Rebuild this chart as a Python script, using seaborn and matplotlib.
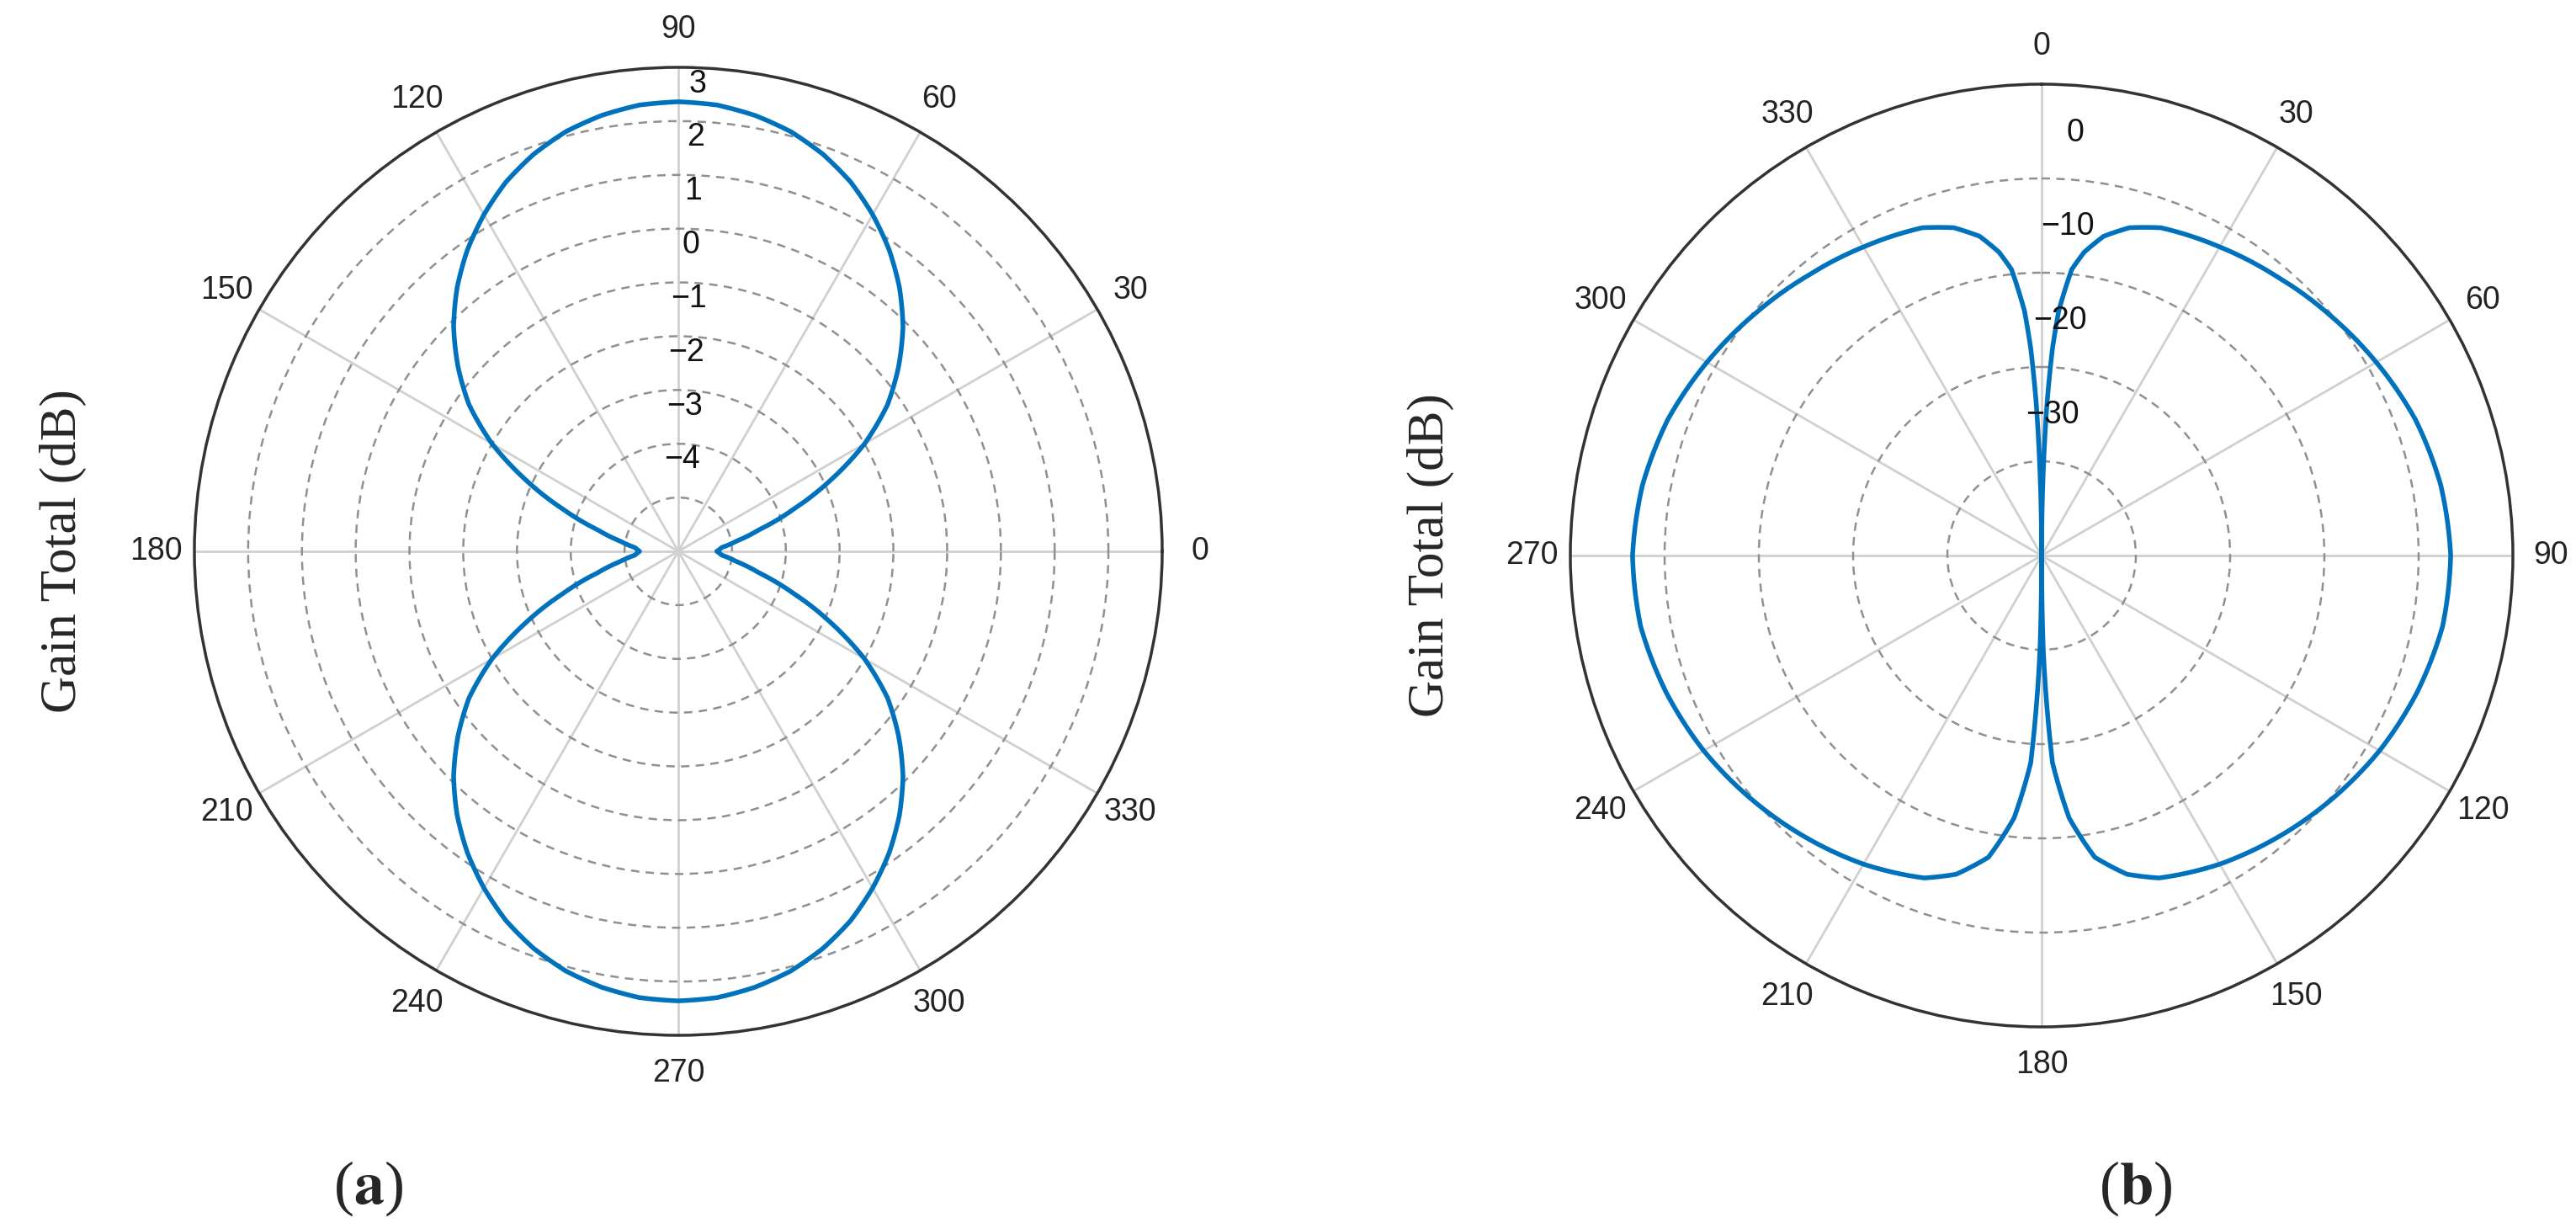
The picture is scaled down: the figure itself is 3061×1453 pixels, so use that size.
import numpy as np
import matplotlib
matplotlib.use("Agg")
import matplotlib.pyplot as plt
import seaborn as sns
import pandas as pd

sns.set_style("white")
plt.rcParams['font.family'] = ['Liberation Sans', 'DejaVu Sans']
plt.rcParams['mathtext.fontset'] = 'stix'

# ---- data (a): gain vs angle, first quadrant (pattern symmetric)
a_angles_q = [0, 5, 10, 15, 20, 25, 30, 35, 40, 45, 50, 55, 60, 65, 70, 75, 80, 85, 90]
a_gain_q = [-5.28, -5.19, -4.9, -4.44, -3.73, -2.88, -2.0, -1.25, -0.65, -0.09, 0.4, 0.84,
            1.23, 1.58, 1.86, 2.08, 2.23, 2.33, 2.36]
a_rticks = [-5, -4, -3, -2, -1, 0, 1, 2]
a_rlabels = ["3", "2", "1", "0", "\u22121", "\u22122", "\u22123", "\u22124"]
a_rlabel_vals = [3, 2, 1, 0, -1, -2, -3, -4]

# ---- data (b): gain vs angle, right half (left half mirrored)
b_angles_h = [0, 1, 2, 3, 4, 6, 8, 11, 15, 20, 25, 30, 40, 50, 60, 70, 80, 90,
              100, 110, 120, 130, 140, 150, 160, 165, 170, 174, 177, 179, 180]
b_gain_h = [-50, -42, -34, -28, -24, -19.5, -17.5, -15.5, -14, -13, -12.6, -12.2, -11.3,
            -10.2, -9.0, -7.8, -7.0, -6.6, -6.8, -7.6, -8.6, -9.8, -11.0, -12.2, -13.6,
            -15, -17.5, -22, -28, -40, -50]
b_rticks = [-40, -30, -20, -10]
b_rlabel_vals = [0, -10, -20, -30]
b_rlabels = ["0", "\u221210", "\u221220", "\u221230"]

angle_ticks = list(range(0, 360, 30))

# build full patterns by symmetry of the read values
aq = np.array(a_angles_q, float); ag = np.array(a_gain_q, float)
a_deg = np.concatenate([aq, 180 - aq[::-1], 180 + aq, 360 - aq[::-1]])
a_val = np.concatenate([ag, ag[::-1], ag, ag[::-1]])
df_a = pd.DataFrame({"theta": np.deg2rad(a_deg), "gain": a_val})

bh = np.array(b_angles_h, float); bg = np.array(b_gain_h, float)
b_deg = np.concatenate([bh, 360 - bh[::-1]])
b_val = np.concatenate([bg, bg[::-1]])
df_b = pd.DataFrame({"theta": np.deg2rad(b_deg), "gain": b_val})

W, H = 3061, 1453
fig = plt.figure(figsize=(W / 100, H / 100), dpi=100)

def box(cx, cy, R):
    return [(cx - R) / W, (H - cy - R) / H, 2 * R / W, 2 * R / H]

ax1 = fig.add_axes(box(806, 655, 575), projection='polar')
ax2 = fig.add_axes(box(2426, 660, 560), projection='polar')

blue = "#0072BD"
fs = 27

def style(ax, rmin, rmax, rticks):
    ax.set_rlim(rmin, rmax)
    ax.set_rticks(rticks)
    ax.set_yticklabels([])
    ax.set_thetagrids(angle_ticks, [str(t) for t in angle_ticks], fontsize=fs, color="#222222")
    ax.tick_params(axis='x', pad=22)
    ax.xaxis.grid(True, color="#d0d0d0", lw=2, ls='-')
    ax.yaxis.grid(True, color="#909090", lw=1.8, ls=(0, (4, 3)))
    ax.spines['polar'].set_color("#333333")
    ax.spines['polar'].set_linewidth(2.5)
    ax.set_xlabel("")
    ax.set_ylabel("")

# (a)
ax1.set_theta_zero_location('E')
ax1.set_theta_direction(1)
sns.lineplot(data=df_a, x="theta", y="gain", ax=ax1, sort=False, color=blue, lw=4, estimator=None)
style(ax1, -6, 3, a_rticks)
for v, lab in zip(a_rlabel_vals, a_rlabels):
    ax1.text(np.deg2rad(87.6), v - 0.3, lab, fontsize=fs, ha='center', va='center', color="#111111")

# (b)
ax2.set_theta_zero_location('N')
ax2.set_theta_direction(-1)
sns.lineplot(data=df_b, x="theta", y="gain", ax=ax2, sort=False, color=blue, lw=4, estimator=None)
style(ax2, -50, 0, b_rticks)
for v, lab in zip(b_rlabel_vals, b_rlabels):
    ax2.text(np.deg2rad(4.5), v - 5, lab, fontsize=fs, ha='center', va='center', color="#111111")

for ax in (ax1, ax2):
    for ln in ax.get_lines():
        ln.get_path()._interpolation_steps = 30

serif = ['Liberation Serif', 'DejaVu Serif']
fig.text(75 / W, 1 - 655 / H, "Gain Total (dB)", rotation=90, ha='center', va='center',
         fontsize=44, family=serif)
fig.text(1700 / W, 1 - 660 / H, "Gain Total (dB)", rotation=90, ha='center', va='center',
         fontsize=44, family=serif)
fig.text(438 / W, 1 - 1412 / H, r"($\mathbf{a}$)", ha='center', va='center', fontsize=52, family=serif)
fig.text(2538 / W, 1 - 1412 / H, r"($\mathbf{b}$)", ha='center', va='center', fontsize=52, family=serif)

fig.savefig("out.png", dpi=100)
